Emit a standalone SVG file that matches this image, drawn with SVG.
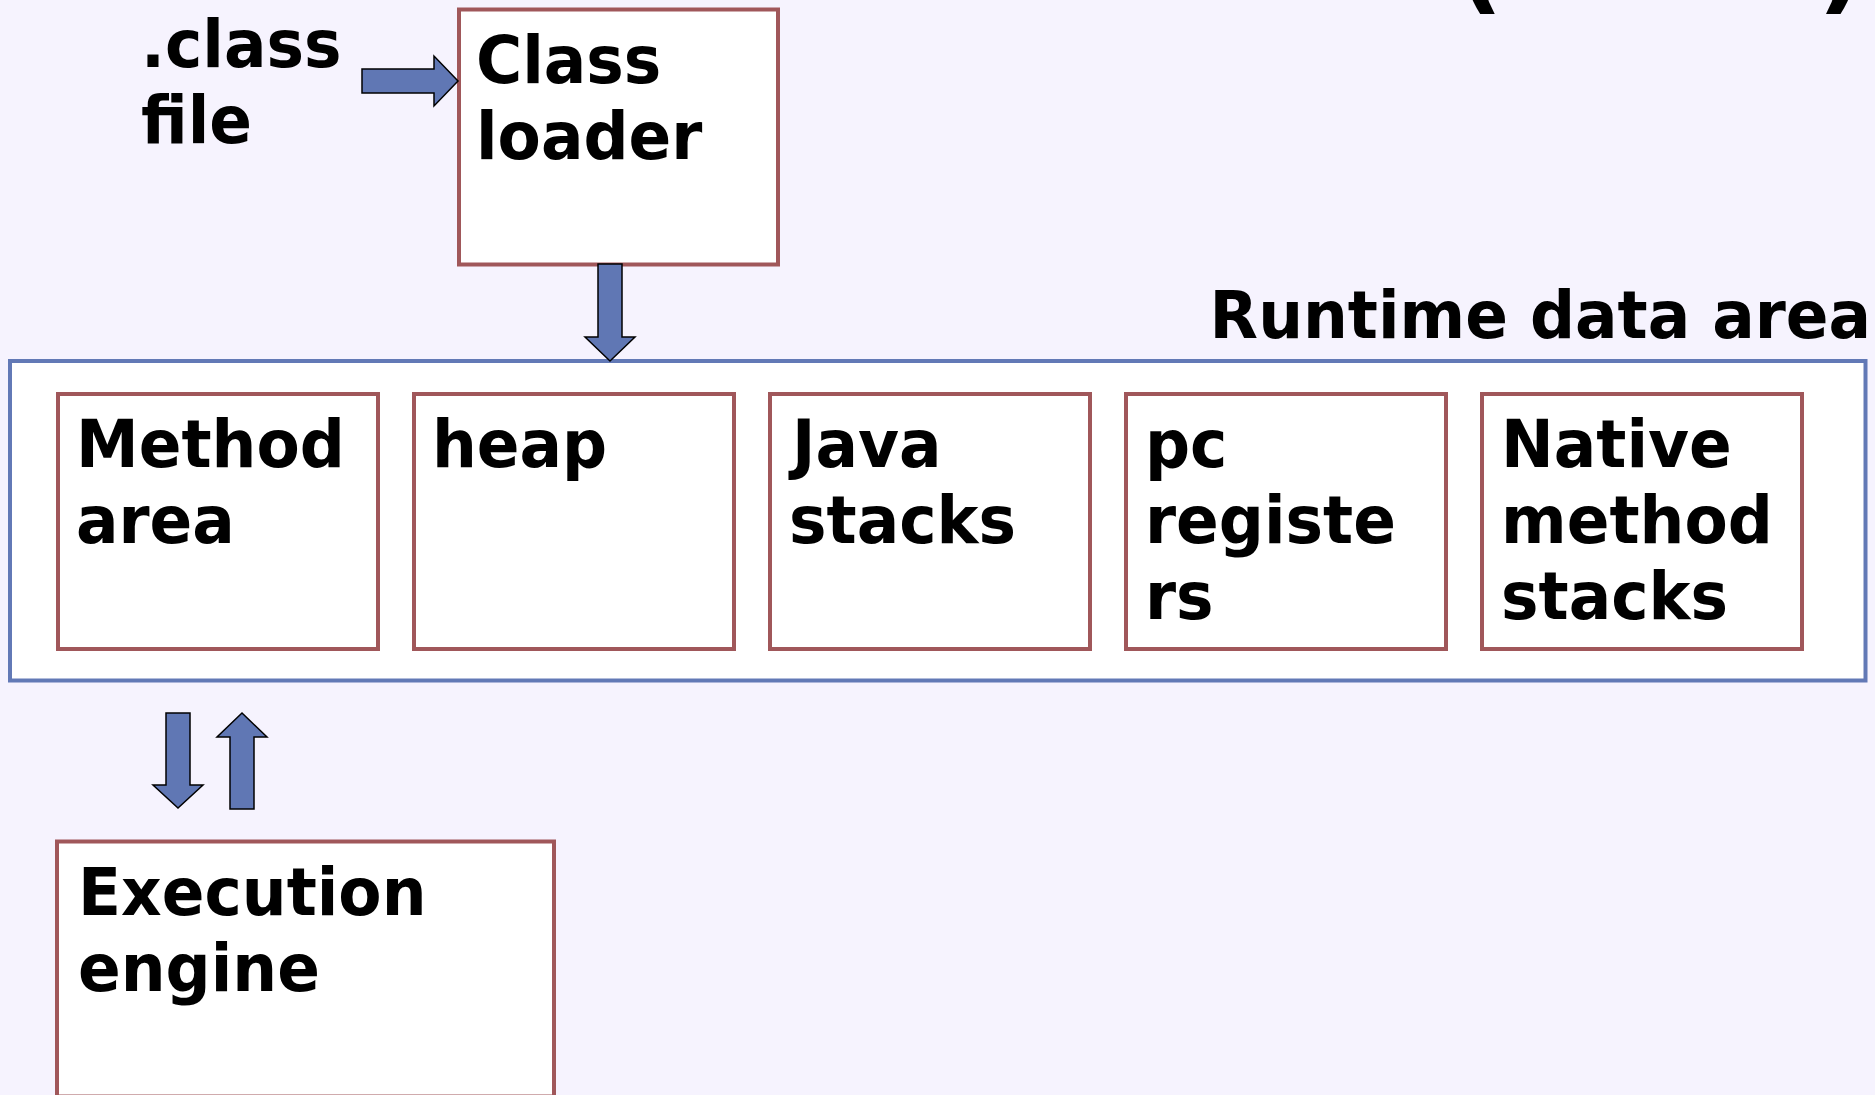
<svg xmlns="http://www.w3.org/2000/svg" width="1875" height="1095" viewBox="0 0 1875 1095">
  <style>
    .bg { fill: #F6F3FE; }
    .box { fill: #FFFFFF; stroke: #A0575A; stroke-width: 4; }
    .area { fill: #FFFFFF; stroke: #6279B6; stroke-width: 4; }
    .lbl { font-family: "DejaVu Sans", Verdana, sans-serif; font-weight: bold; font-size: 66px; fill: #000000; }
    .title { font-family: "DejaVu Sans", Verdana, sans-serif; font-weight: bold; font-size: 100px; fill: #000000; }
    .arrow { fill: #6077B4; stroke: #000000; stroke-width: 1.5; stroke-linejoin: miter; }
  </style>

  <rect class="bg" x="0" y="0" width="1875" height="1095"/>

  <!-- clipped heading: only the lower ends of the brackets reach into view -->
  <g id="heading">
    <text class="title" x="1457" y="1">(</text>
    <text class="title" x="1818" y="1">)</text>
  </g>

  <!-- input file label -->
  <g id="class-file">
    <text class="lbl" transform="translate(141,67) scale(0.955,1)">.class</text>
    <text class="lbl" transform="translate(141,143) scale(0.955,1)">file</text>
  </g>

  <g id="class-loader">
    <rect class="box" x="459" y="9.5" width="319" height="255"/>
    <text class="lbl" transform="translate(476,83) scale(0.955,1)">Class</text>
    <text class="lbl" transform="translate(476,159) scale(0.955,1)">loader</text>
  </g>

  <!-- runtime data area container with its five regions -->
  <g id="runtime-data-area">
    <rect class="area" x="10" y="361" width="1855.5" height="319.5"/>
    <text class="lbl" text-anchor="end" transform="translate(1871,338) scale(0.955,1)">Runtime data area</text>
  </g>

  <g id="method-area">
    <rect class="box" x="58" y="394" width="320" height="255"/>
    <text class="lbl" transform="translate(76,467) scale(0.955,1)">Method</text>
    <text class="lbl" transform="translate(76,543) scale(0.955,1)">area</text>
  </g>

  <g id="heap">
    <rect class="box" x="414" y="394" width="320" height="255"/>
    <text class="lbl" transform="translate(432,467) scale(0.955,1)">heap</text>
  </g>

  <g id="java-stacks">
    <rect class="box" x="770" y="394" width="320" height="255"/>
    <text class="lbl" transform="translate(792,467) scale(0.955,1)">Java</text>
    <text class="lbl" transform="translate(789,543) scale(0.955,1)">stacks</text>
  </g>

  <g id="pc-registers">
    <rect class="box" x="1126" y="394" width="320" height="255"/>
    <text class="lbl" transform="translate(1145,467) scale(0.955,1)">pc</text>
    <text class="lbl" transform="translate(1145,543) scale(0.955,1)">registe</text>
    <text class="lbl" transform="translate(1145,619) scale(0.955,1)">rs</text>
  </g>

  <g id="native-method-stacks">
    <rect class="box" x="1482" y="394" width="320" height="255"/>
    <text class="lbl" transform="translate(1501,467) scale(0.955,1)">Native</text>
    <text class="lbl" transform="translate(1501,543) scale(0.955,1)">method</text>
    <text class="lbl" transform="translate(1501,619) scale(0.955,1)">stacks</text>
  </g>

  <g id="execution-engine">
    <rect class="box" x="57" y="841.5" width="497" height="255"/>
    <text class="lbl" transform="translate(78,915) scale(0.955,1)">Execution</text>
    <text class="lbl" transform="translate(78,991) scale(0.955,1)">engine</text>
  </g>

  <!-- block arrows between components -->
  <g id="connectors">
    <polygon class="arrow" points="362,69 434,69 434,56 458,81 434,106 434,93 362,93"/>
    <polygon class="arrow" points="598,264 622,264 622,337 635,337 610,361 585,337 598,337"/>
    <polygon class="arrow" points="166,713 190,713 190,785 203,785 178,808 153,785 166,785"/>
    <polygon class="arrow" points="242,713 267,737 254,737 254,809 230,809 230,737 217,737"/>
  </g>
</svg>
